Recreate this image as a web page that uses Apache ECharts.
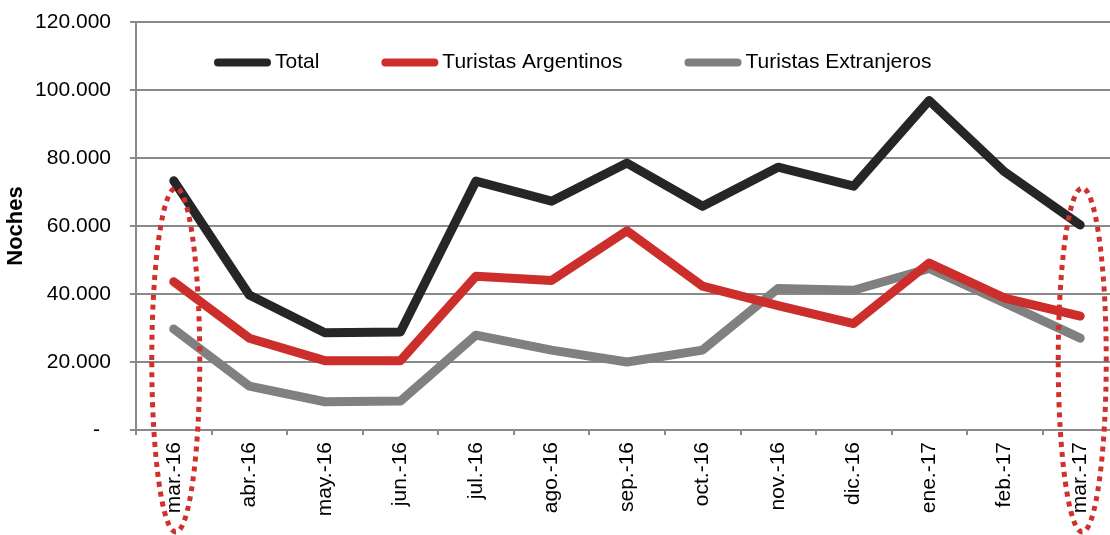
<!DOCTYPE html>
<html><head><meta charset="utf-8">
<script src="https://cdn.jsdelivr.net/npm/echarts@6/dist/echarts.min.js"></script>
<style>html,body{margin:0;padding:0;background:#fff;overflow:hidden}#c{width:1118px;height:535px}</style>
</head><body><div id="c"></div>
<script>
const categories = ['mar.-16','abr.-16','may.-16','jun.-16','jul.-16','ago.-16','sep.-16','oct.-16','nov.-16','dic.-16','ene.-17','feb.-17','mar.-17'];
const total = [73300, 39700, 28600, 28800, 73200, 67300, 78500, 65800, 77300, 71700, 96900, 75900, 60300];
const argentinos = [43600, 27000, 20400, 20400, 45200, 44000, 58600, 42300, 36600, 31300, 49100, 38800, 33500];
const extranjeros = [29700, 12900, 8300, 8500, 27900, 23500, 20000, 23500, 41600, 41100, 47500, 37400, 27000];
const seriesNames = ['Total', 'Turistas Argentinos', 'Turistas Extranjeros'];
const highlighted = ['mar.-16', 'mar.-17'];

const FONT = 'Liberation Sans, Arial, sans-serif';
const colors = ['#262626', '#CC2E2B', '#808080'];
const chart = echarts.init(document.getElementById('c'), null, {renderer: 'canvas'});
const capsule = 'path://M4,0L53,0A4,4,0,0,1,53,8L4,8A4,4,0,0,1,4,0Z';
function fmt(v) {
  if (v === 0) return '{z|-}';
  return String(v).replace(/\B(?=(\d{3})+(?!\d))/g, '.');
}
const data = [total, argentinos, extranjeros];
chart.setOption({
  animation: false,
  color: colors,
  grid: {left: 136, top: 22, right: 0, bottom: 105, containLabel: false, outerBoundsMode: 'none'},
  legend: {
    left: 209, top: 47,
    itemWidth: 57, itemHeight: 8, itemGap: 62,
    data: seriesNames.map(n => ({name: n, icon: capsule})),
    textStyle: {fontFamily: FONT, fontSize: 21, color: '#000', padding: [0, 0, 0, -1]}
  },
  xAxis: {
    type: 'category', data: categories, boundaryGap: true,
    axisLine: {lineStyle: {color: '#8a8a8a', width: 2}},
    axisTick: {show: true, length: 5, lineStyle: {color: '#8a8a8a', width: 2}},
    axisLabel: {rotate: 90, margin: 12, fontFamily: FONT, fontSize: 21, color: '#000', interval: 0}
  },
  yAxis: {
    type: 'value', min: 0, max: 120000, interval: 20000,
    name: 'Noches', nameLocation: 'middle', nameGap: 109, nameRotate: 90, nameMoveOverlap: false,
    nameTextStyle: {fontFamily: FONT, fontSize: 22, fontWeight: 'bold', color: '#000'},
    axisLine: {show: true, lineStyle: {color: '#8a8a8a', width: 2}},
    axisTick: {show: true, length: 6, lineStyle: {color: '#8a8a8a', width: 2}},
    splitLine: {lineStyle: {color: '#8a8a8a', width: 2}},
    axisLabel: {margin: 25, fontFamily: FONT, fontSize: 21, color: '#000', formatter: fmt,
      rich: {z: {fontFamily: FONT, fontSize: 21, color: '#000', padding: [0, 11, 0, 0]}}}
  },
  series: seriesNames.map((n, i) => ({
    name: n, type: 'line', data: data[i], symbol: 'none',
    lineStyle: {width: 9, color: colors[i], cap: 'round', join: 'round'},
    z: 10 - i
  }))
});
const yZero = chart.convertToPixel({yAxisIndex: 0}, 0);
const graphics = highlighted.map((c, k) => {
  const cx = chart.convertToPixel({xAxisIndex: 0}, c) + 2;
  return {
    type: 'ellipse', z: 100,
    shape: {cx: cx, cy: yZero - 70, rx: 24, ry: 172},
    style: {fill: 'none', stroke: '#D0312D', lineWidth: 5, lineDash: [5, 5]}
  };
});
chart.setOption({graphic: graphics});
</script></body></html>
